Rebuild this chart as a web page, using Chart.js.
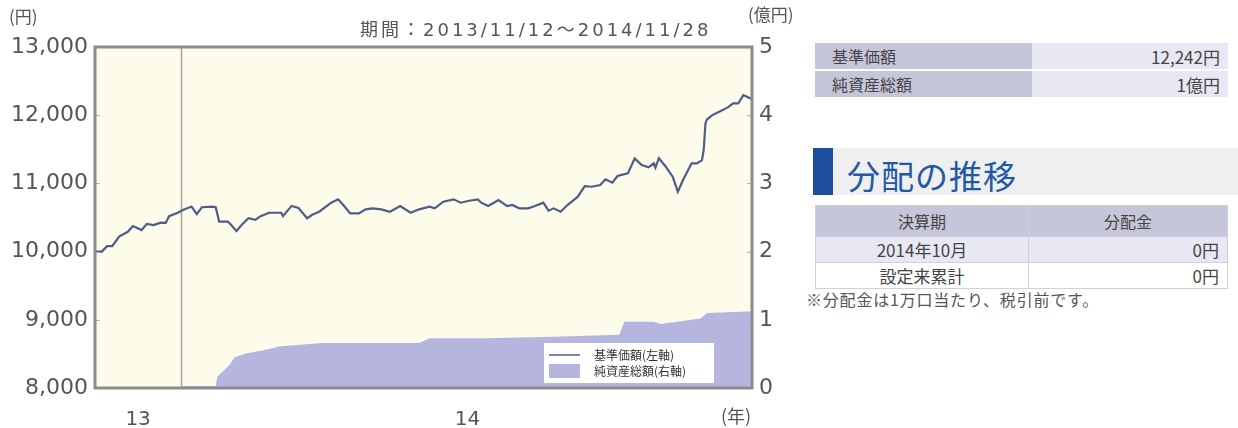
<!DOCTYPE html>
<html lang="ja">
<head>
<meta charset="utf-8">
<title>基準価額・純資産総額の推移</title>
<script src="https://cdn.jsdelivr.net/npm/chart.js@4.4.0/dist/chart.umd.min.js"></script>
<style>
  html, body { margin: 0; padding: 0; background: #fff; }
  body {
    width: 1238px; height: 428px; position: relative; overflow: hidden;
    font-family: "Noto Sans CJK JP", "DejaVu Sans", sans-serif; color: #444;
  }
  #navChart { position: absolute; left: 0; top: 0; }

  .panel { position: absolute; left: 815px; width: 413px; }
  .panel table { border-collapse: collapse; width: 100%; font-size: 16px; }
  .panel td { padding: 0 8px; line-height: 1; }

  #summary { top: 43px; }
  #summary td { height: 26px; border-bottom: 2px solid #fff; }
  #summary td.lbl { background: #c6c6da; width: 192px; padding-left: 17px; }
  #summary td.val { background: #e8e8f4; text-align: right; font-size: 17px; }

  #distHead {
    position: absolute; left: 813px; top: 148px; width: 425px; height: 47px;
    background: #efefef;
  }
  #distHead .bar { position: absolute; left: 0; top: 0; width: 20px; height: 47px; background: #1d4f9c; }
  #distHead .txt {
    position: absolute; left: 34px; top: 3px; font-size: 33px; color: #2159a6;
    letter-spacing: 1px;
  }

  #dist { top: 205px; }
  #dist td { height: 25px; border: 1px solid #d0d0dc; font-size: 17px; }
  #dist tr.head td { background: #c6c6da; text-align: center; height: 30px; font-size: 16px; }
  #dist tr.r1 td { background: #e8e8f4; }
  #dist td.c1 { width: 196px; text-align: center; }
  #dist td.c2 { text-align: right; }

  #note { position: absolute; left: 806px; top: 287px; font-size: 16px; color: #555; letter-spacing: 0.8px; }
</style>
</head>
<body>
<canvas id="navChart" width="800" height="428"></canvas>

<div class="panel" id="summary">
  <table>
    <tr><td class="lbl">基準価額</td><td class="val">12,242円</td></tr>
    <tr><td class="lbl">純資産総額</td><td class="val">1億円</td></tr>
  </table>
</div>

<div id="distHead"><div class="bar"></div><div class="txt">分配の推移</div></div>

<div class="panel" id="dist">
  <table>
    <tr class="head"><td class="c1">決算期</td><td style="text-align:center">分配金</td></tr>
    <tr class="r1"><td class="c1">2014年10月</td><td class="c2">0円</td></tr>
    <tr><td class="c1">設定来累計</td><td class="c2">0円</td></tr>
  </table>
</div>

<div id="note">※分配金は1万口当たり、税引前です。</div>

<script>
/* ─── Data ───────────────────────────────────────── */
// x values are days since 2013/11/12 (last point = 2014/11/28)
const PERIOD_LABEL = '期間：2013/11/12～2014/11/28';
const LAST_DAY = 381;

const navDays = [
  0, 1, 4, 7, 10, 14, 19, 22, 27, 30, 34, 38, 41, 43, 48, 51, 56, 59, 62, 68,
  70, 72, 77, 79, 82, 85, 89, 93, 96, 101, 108, 109, 114, 118, 123, 126, 130, 137, 141, 144,
  148, 153, 157, 161, 166, 171, 177, 183, 188, 194, 197, 202, 208, 212, 217, 222, 224, 228, 234, 239,
  242, 246, 251, 254, 260, 263, 266, 270, 274, 280, 284, 288, 293, 296, 300, 303, 309, 313, 317, 321,
  324, 325, 327, 331, 335, 338, 341, 346, 349, 352, 353, 354, 355, 358, 362, 367, 370, 373, 376, 380,
  381
];
const navValues = [
  10000, 10000, 10000, 10080, 10080, 10220, 10290, 10375, 10315, 10405, 10390, 10425, 10420, 10520, 10570, 10610, 10660, 10550, 10650, 10660,
  10650, 10440, 10440, 10390, 10300, 10390, 10490, 10465, 10520, 10570, 10570, 10520, 10670, 10640, 10490, 10540, 10585, 10717, 10766, 10683,
  10561, 10561, 10620, 10634, 10620, 10585, 10668, 10570, 10620, 10658, 10634, 10731, 10766, 10717, 10746, 10766, 10717, 10668, 10756, 10668,
  10683, 10634, 10634, 10658, 10717, 10600, 10634, 10585, 10683, 10805, 10961, 10951, 10976, 11059, 11010, 11108, 11147, 11367, 11269, 11235,
  11294, 11230, 11370, 11245, 11098, 10878, 11049, 11294, 11294, 11342, 11490, 11880, 11940, 12002, 12050, 12115, 12173, 12173, 12295, 12247,
  12242
];

const assetDays = [
  0, 49, 50, 70, 71, 74, 78, 81, 88, 97, 107, 117, 132, 152, 188, 194, 227, 266, 304, 307,
  324, 328, 351, 355, 378, 381
];
const assetValues = [
  0, 0, 0.03, 0.03, 0.17, 0.24, 0.34, 0.45, 0.51, 0.55, 0.61, 0.63, 0.66, 0.66, 0.66, 0.73, 0.73, 0.75, 0.78, 0.97,
  0.97, 0.94, 1.02, 1.10, 1.12, 1.12
];

const leftTicks  = [8000, 9000, 10000, 11000, 12000, 13000];
const rightTicks = [0, 1, 2, 3, 4, 5];
const yearTickDays   = [25, 216];
const yearTickLabels = ['13', '14'];
const YEAR_BOUNDARY_DAY = 50;   // 2014/01/01

const NAV_LABEL   = '基準価額(左軸)';
const ASSET_LABEL = '純資産総額(右軸)';

/* ─── Style ──────────────────────────────────────── */
const TICK_FONT  = { family: 'DejaVu Sans', size: 22 };
const TICK_COLOR = '#555';
const PLOT_BG    = '#fdfbe9';
const FRAME      = '#8c8c8c';
const NAV_COLOR  = '#4f5c8a';
const AREA_COLOR = '#b5b5df';

const CANVAS_W = 800;
const PLOT = { left: 95, right: 752, top: 47, bottom: 388 };
const NO_GRID = { display: false, drawTicks: false, tickLength: 0 };

/* ─── Plugins ────────────────────────────────────── */
const plotDecor = {
  id: 'plotDecor',
  beforeDraw(chart) {
    const { ctx, chartArea: a } = chart;
    ctx.save();
    ctx.fillStyle = PLOT_BG;
    ctx.fillRect(a.left, a.top, a.right - a.left, a.bottom - a.top);
    ctx.restore();
  },
  beforeDatasetsDraw(chart) {
    const { ctx, chartArea: a } = chart;
    const x = Math.round(chart.scales.x.getPixelForValue(YEAR_BOUNDARY_DAY)) + 0.5;
    ctx.save();
    ctx.strokeStyle = '#a8a8a0';
    ctx.lineWidth = 1.5;
    ctx.beginPath();
    ctx.moveTo(x, a.top);
    ctx.lineTo(x, a.bottom);
    ctx.stroke();
    ctx.restore();
  },
  afterDatasetsDraw(chart) {
    const { ctx, chartArea: a, scales } = chart;
    ctx.save();
    // inner tick marks
    ctx.strokeStyle = '#b0b0b0';
    ctx.lineWidth = 1;
    leftTicks.forEach(v => {
      const y = Math.round(scales.y.getPixelForValue(v)) + 0.5;
      ctx.beginPath(); ctx.moveTo(a.left, y); ctx.lineTo(a.left + 5, y); ctx.stroke();
    });
    rightTicks.forEach(v => {
      const y = Math.round(scales.y1.getPixelForValue(v)) + 0.5;
      ctx.beginPath(); ctx.moveTo(a.right - 5, y); ctx.lineTo(a.right, y); ctx.stroke();
    });
    // frame
    ctx.strokeStyle = FRAME;
    ctx.lineWidth = 3;
    ctx.strokeRect(a.left, a.top, a.right - a.left, a.bottom - a.top);

    // legend box
    const bx = a.right - 208, by = a.bottom - 45;
    ctx.fillStyle = '#fff';
    ctx.fillRect(bx, by, 170, 40);
    ctx.strokeStyle = NAV_COLOR;
    ctx.lineWidth = 1.5;
    ctx.beginPath(); ctx.moveTo(bx + 5, by + 12); ctx.lineTo(bx + 36, by + 12); ctx.stroke();
    ctx.fillStyle = AREA_COLOR;
    ctx.fillRect(bx + 5, by + 21, 31, 14);
    ctx.fillStyle = '#333';
    ctx.font = '12px "Noto Sans CJK JP"';
    ctx.textBaseline = 'middle';
    ctx.fillText(NAV_LABEL, bx + 50, by + 12);
    ctx.fillText(ASSET_LABEL, bx + 50, by + 28);
    ctx.restore();
  },
  afterDraw(chart) {
    const { ctx, chartArea: a } = chart;
    ctx.save();
    ctx.fillStyle = '#555';
    ctx.textBaseline = 'middle';
    ctx.font = '17px "Noto Sans CJK JP"';
    ctx.fillText('(円)', 9, 17);
    ctx.fillText('(億円)', a.right - 4, 15);
    ctx.font = '18px "DejaVu Sans", "Noto Sans CJK JP"';
    ctx.letterSpacing = '3px';
    ctx.fillText(PERIOD_LABEL, 360, 31);
    ctx.letterSpacing = '0px';
    ctx.font = '18px "Noto Sans CJK JP"';
    ctx.textAlign = 'center';
    ctx.fillText('(年)', a.right - 16, 416);
    ctx.restore();
  },
};

/* ─── Chart ──────────────────────────────────────── */
const ctx = document.getElementById('navChart').getContext('2d');

new Chart(ctx, {
  type: 'line',
  data: {
    datasets: [
      {
        label: NAV_LABEL,
        data: navDays.map((d, i) => ({ x: d, y: navValues[i] })),
        yAxisID: 'y',
        borderColor: NAV_COLOR,
        borderWidth: 2.2,
        pointRadius: 0,
        tension: 0,
        fill: false,
      },
      {
        label: ASSET_LABEL,
        data: assetDays.map((d, i) => ({ x: d, y: assetValues[i] })),
        yAxisID: 'y1',
        borderWidth: 0,
        backgroundColor: AREA_COLOR,
        pointRadius: 0,
        tension: 0,
        fill: 'origin',
      },
    ],
  },
  options: {
    responsive: false,
    animation: false,
    devicePixelRatio: 1,
    layout: { padding: { top: PLOT.top, left: 0, right: 0, bottom: 0 } },
    plugins: {
      legend: { display: false },
      tooltip: { enabled: false },
    },
    scales: {
      x: {
        type: 'linear',
        min: 0,
        max: LAST_DAY,
        grid: NO_GRID,
        border: { display: false },
        afterBuildTicks: s => { s.ticks = yearTickDays.map(v => ({ value: v })); },
        afterFit: s => { s.height = 428 - PLOT.bottom; },
        ticks: {
          autoSkip: false,
          maxRotation: 0,
          padding: 20,
          color: TICK_COLOR,
          font: { family: 'DejaVu Sans', size: 20 },
          callback: (v, i) => yearTickLabels[i],
        },
      },
      y: {
        position: 'left',
        min: 8000,
        max: 13000,
        grid: NO_GRID,
        border: { display: false },
        afterBuildTicks: s => { s.ticks = leftTicks.map(v => ({ value: v })); },
        afterFit: s => { s.width = PLOT.left; },
        ticks: {
          padding: 7,
          color: TICK_COLOR,
          font: TICK_FONT,
          callback: v => v.toLocaleString('en-US'),
        },
      },
      y1: {
        position: 'right',
        min: 0,
        max: 5,
        grid: NO_GRID,
        border: { display: false },
        afterBuildTicks: s => { s.ticks = rightTicks.map(v => ({ value: v })); },
        afterFit: s => { s.width = CANVAS_W - PLOT.right; },
        ticks: {
          padding: 7,
          color: TICK_COLOR,
          font: TICK_FONT,
        },
      },
    },
  },
  plugins: [plotDecor],
});
</script>
</body>
</html>
